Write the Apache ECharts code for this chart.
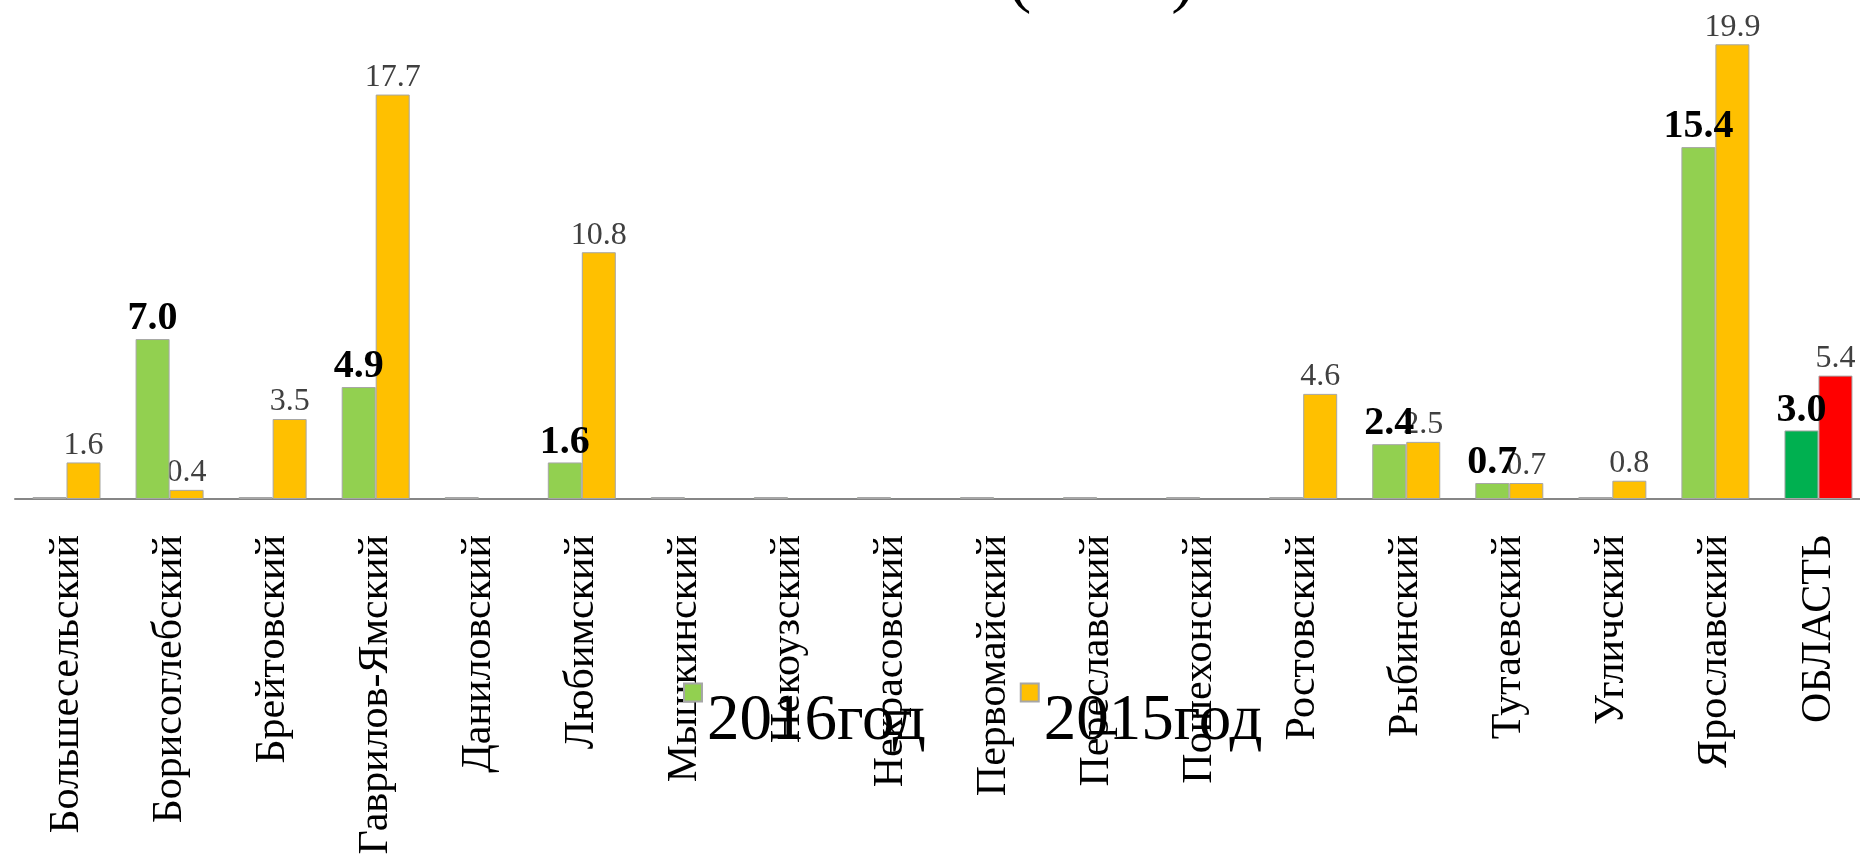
<!DOCTYPE html>
<html>
<head>
<meta charset="utf-8">
<script src="https://cdn.jsdelivr.net/npm/echarts@6/dist/echarts.min.js"></script>
<style>
html,body{margin:0;padding:0;background:#fff;}
#chart{width:1860px;height:864px;}
</style>
</head>
<body>
<div id="chart"></div>
<script>
const categories = ['Большесельский','Борисоглебский','Брейтовский','Гаврилов-Ямский','Даниловский','Любимский','Мышкинский','Некоузский','Некрасовский','Первомайский','Переславский','Пошехонский','Ростовский','Рыбинский','Тутаевский','Угличский','Ярославский','ОБЛАСТЬ'];
const values2016 = [0, 7.0, 0, 4.9, 0, 1.6, 0, 0, 0, 0, 0, 0, 0, 2.4, 0.7, 0, 15.4, 3.0];
const values2015 = [1.6, 0.4, 3.5, 17.7, null, 10.8, null, null, null, null, null, null, 4.6, 2.5, 0.7, 0.8, 19.9, 5.4];
const seriesNames = ['2016год', '2015год'];
const colors2016 = '#92d050', colors2015 = '#ffc000';
const regionColor2016 = '#00b050', regionColor2015 = '#ff0000';
const regionName = 'ОБЛАСТЬ';

const serif = '"Liberation Serif", "Times New Roman", serif';
function build(vals, regionColor) {
  return vals.map((v, i) => categories[i] === regionName ? { value: v, itemStyle: { color: regionColor } } : v);
}
const fmt = p => (p.value == null || p.value === 0) ? '' : Number(p.value).toFixed(1);

const chart = echarts.init(document.getElementById('chart'));
chart.setOption({
  animation: false,
  backgroundColor: '#ffffff',
  graphic: [{
    type: 'text', left: 1008, top: -54,
    style: { text: '(        )', font: '70px ' + serif, fill: '#000' }
  }],
  legend: {
    left: 683, top: 631, padding: 0,
    itemWidth: 18, itemHeight: 18, itemGap: 94,
    icon: 'rect',
    formatter: name => '\n' + name,
    textStyle: { fontFamily: serif, fontSize: 65, lineHeight: 58, color: '#000' },
    data: seriesNames
  },
  grid: { left: 15, top: 42, right: -10, bottom: 365, containLabel: false, outerBoundsMode: 'none' },
  xAxis: {
    type: 'category', data: categories,
    axisTick: { show: false },
    axisLine: { lineStyle: { color: '#868686', width: 2 } },
    axisLabel: { rotate: 90, interval: 0, margin: 36, fontFamily: serif, fontSize: 42, color: '#000' }
  },
  yAxis: { type: 'value', min: 0, max: 20, show: false, splitLine: { show: false } },
  series: [
    {
      name: seriesNames[0], type: 'bar', data: build(values2016, regionColor2016),
      barWidth: 34, barGap: '0%', barMinHeight: 2,
      itemStyle: { color: colors2016, borderColor: '#a6a6a6', borderWidth: 1 },
      label: { show: true, position: 'top', distance: 0, formatter: fmt, fontFamily: serif, fontSize: 40, fontWeight: 'bold', color: '#000' },
      z: 3
    },
    {
      name: seriesNames[1], type: 'bar', data: build(values2015, regionColor2015),
      barWidth: 34,
      itemStyle: { color: colors2015, borderColor: '#a6a6a6', borderWidth: 1 },
      label: { show: true, position: 'top', distance: 1, formatter: fmt, fontFamily: serif, fontSize: 32, color: '#404040' },
      z: 2
    }
  ]
});
</script>
</body>
</html>
